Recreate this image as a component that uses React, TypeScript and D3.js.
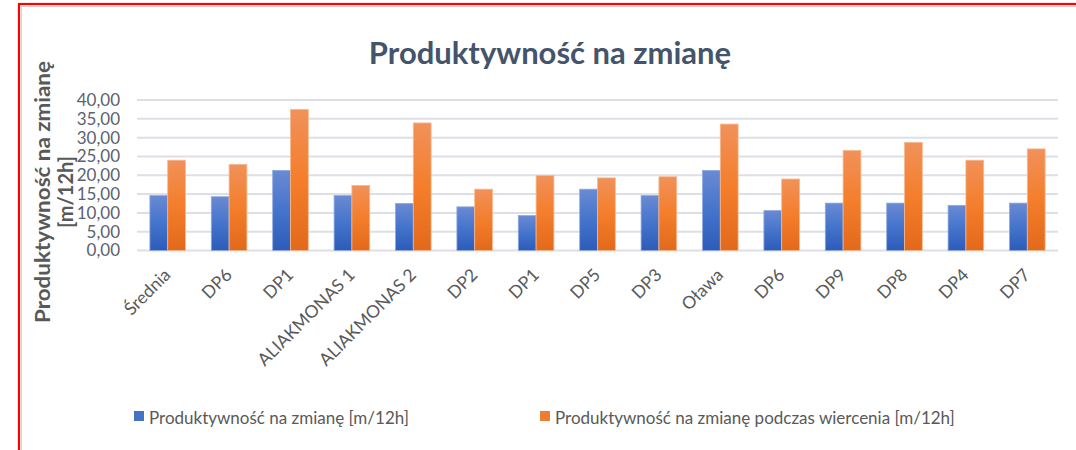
import React from "react";
import * as d3 from "d3";

const categories = ["Średnia", "DP6", "DP1", "ALIAKMONAS 1", "ALIAKMONAS 2", "DP2", "DP1", "DP5", "DP3", "Oława", "DP6", "DP9", "DP8", "DP4", "DP7"];
const seriesNames = ["Produktywność na zmianę [m/12h]", "Produktywność na zmianę podczas wiercenia [m/12h]"];
const shiftValues = [14.6, 14.3, 21.3, 14.6, 12.5, 11.6, 9.3, 16.3, 14.6, 21.3, 10.6, 12.6, 12.6, 12.0, 12.6];
const drillingValues = [24.0, 22.9, 37.5, 17.3, 33.9, 16.3, 19.9, 19.3, 19.6, 33.6, 19.0, 26.6, 28.7, 24.0, 27.0];
const yTicks = [0, 5, 10, 15, 20, 25, 30, 35, 40];
const title = "Produktywność na zmianę";
const yTitleLines = ["Produktywność na zmianę", "[m/12h]"];

const FONT = "Lato, 'Open Sans', sans-serif";

export default function App() {
  const W = 1076, H = 450;
  const plotLeft = 137, plotRight = 1058, plotTop = 100, plotBottom = 250.5;
  const x = d3.scaleBand<number>().domain(d3.range(categories.length)).range([plotLeft, plotRight]).paddingInner(0.42).paddingOuter(0.21);
  const xs = d3.scaleBand<number>().domain([0, 1]).range([0, x.bandwidth()]);
  const y = d3.scaleLinear().domain([0, 40]).range([plotBottom, plotTop]);
  const fmt = (v: number) => d3.format(".2f")(v).replace(".", ",");
  const series = [shiftValues, drillingValues];
  const fills = ["url(#gBlue)", "url(#gOrange)"];
  const strokes = ["#8fa9e0", "#f7b88f"];
  const legendX = [134, 540];
  const legendColors = ["#4472c4", "#ed7d31"];

  return (
    <svg width={W} height={H} style={{ position: "absolute", left: 0, top: 0, background: "#fff" }} fontFamily={FONT}>
      <defs>
        <linearGradient id="gBlue" x1="0" y1="0" x2="0" y2="1">
          <stop offset="0" stopColor="#6a8ad3" />
          <stop offset="0.5" stopColor="#4574cc" />
          <stop offset="1" stopColor="#2c5cb9" />
        </linearGradient>
        <linearGradient id="gOrange" x1="0" y1="0" x2="0" y2="1">
          <stop offset="0" stopColor="#f1915a" />
          <stop offset="0.5" stopColor="#f47e2b" />
          <stop offset="1" stopColor="#e2691b" />
        </linearGradient>
      </defs>
      <rect x={0} y={0} width={W} height={H} fill="#fff" />
      {/* red frame */}
      <rect x={19} y={4} width={W + 20} height={H + 20} fill="none" stroke="#ff0000" strokeWidth={2.2} />
      <rect x={21.5} y={6.5} width={W + 20} height={H + 20} fill="none" stroke="#f6c6c6" strokeWidth={1} />

      <text x={550} y={64} textAnchor="middle" fontSize={31} fontWeight="bold" fill="#44546a">{title}</text>

      {/* gridlines */}
      {yTicks.map((t) => (
        <line key={"g" + t} x1={plotLeft} x2={plotRight} y1={y(t)} y2={y(t)} stroke="#dce0e6" strokeWidth={2} />
      ))}
      {/* y tick labels */}
      {yTicks.map((t) => (
        <text key={"t" + t} x={120} y={y(t)} dy="0.35em" textAnchor="end" fontSize={17} fill="#5b6270">{fmt(t)}</text>
      ))}
      {/* y title */}
      <g transform="translate(42,192) rotate(-90)">
        <text x={0} y={0} textAnchor="middle" dominantBaseline="central" fontSize={20} fontWeight="bold" fill="#595959" textLength={262} lengthAdjust="spacingAndGlyphs">{yTitleLines[0]}</text>
        <text x={0} y={23} textAnchor="middle" dominantBaseline="central" fontSize={20} fontWeight="bold" fill="#595959">{yTitleLines[1]}</text>
      </g>

      {/* bars */}
      {series.map((vals, si) =>
        vals.map((v, i) => (
          <rect key={`b${si}-${i}`} x={(x(i) as number) + (xs(si) as number)} y={y(v)} width={xs.bandwidth()} height={y(0) - y(v)} fill={fills[si]} stroke={strokes[si]} strokeWidth={0.8} />
        ))
      )}

      {/* x labels */}
      {categories.map((c, i) => {
        const cx = (x(i) as number) + x.bandwidth() / 2;
        return (
          <text key={"x" + i} transform={`translate(${cx + 4},${276}) rotate(-45)`} textAnchor="end" fontSize={17.5} fill="#595959">{c}</text>
        );
      })}

      {/* legend */}
      {seriesNames.map((n, i) => (
        <g key={"l" + i}>
          <rect x={legendX[i]} y={411} width={10} height={10} fill={legendColors[i]} />
          <text x={legendX[i] + 15} y={422} dy="0.1em" fontSize={17} fill="#595959">{n}</text>
        </g>
      ))}
    </svg>
  );
}
